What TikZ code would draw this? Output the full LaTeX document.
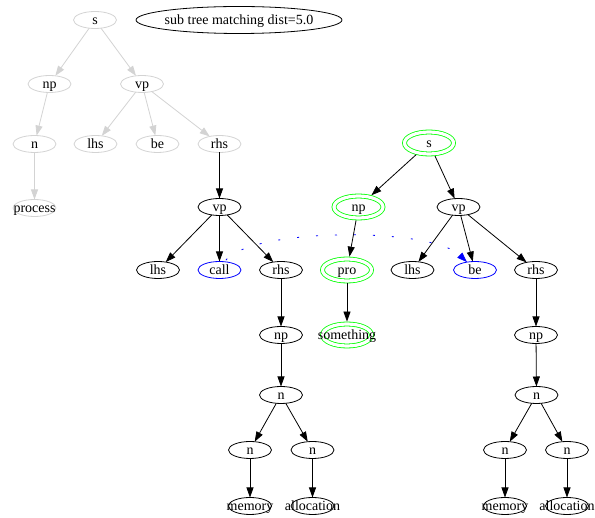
\documentclass[tikz,border=0pt]{standalone}
\usepackage{fontspec}
\setmainfont{Liberation Serif}
\usetikzlibrary{shapes.geometric,arrows.meta}
\definecolor{gvgray}{HTML}{D3D3D3}
\definecolor{gvgreen}{HTML}{00FF00}
\definecolor{gvblue}{HTML}{0000FF}
\newcommand{\gvt}[1]{\raisebox{-0.3em}[0pt][0pt]{\makebox[0pt][c]{#1}}}
\tikzset{
  gv/.style={ellipse, draw, line width=0.8pt, inner sep=0pt, outer sep=0pt,
    minimum width=43pt, minimum height=17pt, font=\fontsize{14pt}{16pt}\selectfont},
  gvgr/.style={gv, draw=gvgray},
  gvbl/.style={gv, draw=gvblue},
  gvdbl/.style={gv, draw=gvgreen, double, double distance=3.2pt,
    minimum width=49pt, minimum height=22pt, outer sep=2.4pt},
  gvedge/.style={line width=0.8pt, -{Triangle[length=10pt,width=7pt]}},
}
\begin{document}
\begin{tikzpicture}[x=1pt,y=-1pt]
\useasboundingbox (0,0) rectangle (595,518);
% title
\node[gv, minimum width=206pt, minimum height=27pt] (title) at (239,20) {\gvt{sub tree matching dist=5.0}};
% gray tree
\node[gvgr] (gS) at (95,20) {\gvt{s}};
\node[gvgr] (gNP) at (49.5,84) {\gvt{np}};
\node[gvgr] (gVP) at (142,84) {\gvt{vp}};
\node[gvgr] (gN) at (34.5,144) {\gvt{n}};
\node[gvgr] (gLhs) at (95.5,144) {\gvt{lhs}};
\node[gvgr] (gBe) at (157.5,144) {\gvt{be}};
\node[gvgr] (gRhs) at (219.5,144) {\gvt{rhs}};
\node[gvgr] (gProc) at (34.5,208) {\gvt{process}};
% left black subtree
\node[gv] (aVP) at (219.5,207) {\gvt{vp}};
\node[gv] (aLhs) at (158,270) {\gvt{lhs}};
\node[gvbl] (aCall) at (219.5,270) {\gvt{call}};
\node[gv] (aRhs) at (281,270) {\gvt{rhs}};
\node[gv] (aNP) at (281,335) {\gvt{np}};
\node[gv] (aN) at (281,395) {\gvt{n}};
\node[gv] (aN1) at (250,450) {\gvt{n}};
\node[gv] (aN2) at (312.5,450) {\gvt{n}};
\node[gv] (aMem) at (250,506) {\gvt{memory}};
\node[gv] (aAlloc) at (312.5,506) {\gvt{allocation}};
% right tree
\node[gvdbl] (bS) at (429,143) {\gvt{s}};
\node[gvdbl] (bNP) at (358.5,207) {\gvt{np}};
\node[gv] (bVP) at (458.5,207) {\gvt{vp}};
\node[gvdbl] (bPro) at (347,270) {\gvt{pro}};
\node[gvdbl] (bSome) at (347,335) {\gvt{something}};
\node[gv] (bLhs) at (412.5,270) {\gvt{lhs}};
\node[gvbl] (bBe) at (475,270) {\gvt{be}};
\node[gv] (bRhs) at (536,270) {\gvt{rhs}};
\node[gv] (bNP2) at (536,335) {\gvt{np}};
\node[gv] (bN) at (536.5,395) {\gvt{n}};
\node[gv] (bN1) at (505,450) {\gvt{n}};
\node[gv] (bN2) at (567,450) {\gvt{n}};
\node[gv] (bMem) at (505,506) {\gvt{memory}};
\node[gv] (bAlloc) at (567,506) {\gvt{allocation}};
% gray edges
\begin{scope}[gvedge, gvgray]
\draw (gS) -- (gNP);
\draw (gS) -- (gVP);
\draw (gNP) -- (gN);
\draw (gN) -- (gProc);
\draw (gVP) -- (gLhs);
\draw (gVP) -- (gBe);
\draw (gVP) -- (gRhs);
\end{scope}
% black edges
\begin{scope}[gvedge, black]
\draw (gRhs) -- (aVP);
\draw (aVP) -- (aLhs);
\draw (aVP) -- (aCall);
\draw (aVP) -- (aRhs);
\draw (aRhs) -- (aNP);
\draw (aNP) -- (aN);
\draw (aN) -- (aN1);
\draw (aN) -- (aN2);
\draw (aN1) -- (aMem);
\draw (aN2) -- (aAlloc);
\draw (bS) -- (bNP);
\draw (bS) -- (bVP);
\draw (bNP) -- (bPro);
\draw (bPro) -- (bSome);
\draw (bVP) -- (bLhs);
\draw (bVP) -- (bBe);
\draw (bVP) -- (bRhs);
\draw (bRhs) -- (bNP2);
\draw (bNP2) -- (bN);
\draw (bN) -- (bN1);
\draw (bN) -- (bN2);
\draw (bN1) -- (bMem);
\draw (bN2) -- (bAlloc);
\end{scope}
% blue dotted matching edge
\draw[gvedge, gvblue, dash pattern=on 2pt off 17pt, dash phase=-2pt]
  (aCall) .. controls (246,228) and (430,226) .. (bBe);
\end{tikzpicture}
\end{document}
